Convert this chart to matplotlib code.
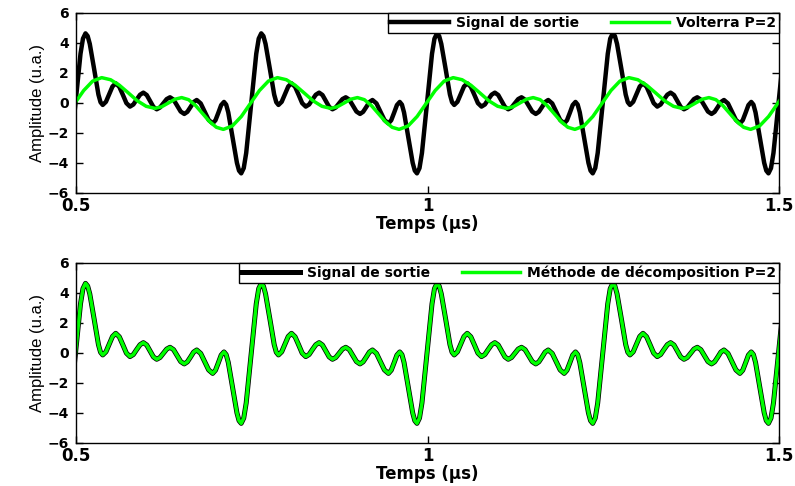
import numpy as np
import matplotlib
matplotlib.use('Agg')
import matplotlib.pyplot as plt

# one period (0.25 us) of each curve
period = 0.25
n_periods = 5

t_out = [0.4850, 0.4886, 0.4921, 0.4993, 0.5064, 0.5099, 0.5135, 0.5166, 0.5196, 0.5258,
         0.5319, 0.5349, 0.5380, 0.5426, 0.5473, 0.5519, 0.5565, 0.5616, 0.5667, 0.5717,
         0.5768, 0.5816, 0.5863, 0.5911, 0.5958, 0.6006, 0.6053, 0.6101, 0.6148, 0.6195,
         0.6243, 0.6290, 0.6337, 0.6388, 0.6439, 0.6489, 0.6540, 0.6584, 0.6629, 0.6673,
         0.6717, 0.6774, 0.6831, 0.6887, 0.6944, 0.6984, 0.7025, 0.7065, 0.7105, 0.7136,
         0.7166, 0.7228, 0.7289, 0.7319]
v_out = [-4.69, -4.34, -3.33, -0.03, 3.28, 4.29, 4.64, 4.46, 3.94, 2.26,
         0.56, 0.05, -0.13, 0.08, 0.59, 1.10, 1.31, 1.08, 0.54, -0.01,
         -0.24, -0.10, 0.23, 0.55, 0.69, 0.53, 0.14, -0.26, -0.42, -0.30,
         -0.02, 0.26, 0.38, 0.22, -0.18, -0.57, -0.73, -0.59, -0.27, 0.06,
         0.20, -0.03, -0.58, -1.13, -1.36, -1.15, -0.65, -0.14, 0.07, -0.11,
         -0.63, -2.31, -3.99, -4.51]

t_vol = [0.4596, 0.4724, 0.4852, 0.4981, 0.5109, 0.5237, 0.5365, 0.5492, 0.5618, 0.5745,
         0.5871, 0.5998, 0.6124, 0.6219, 0.6314, 0.6408, 0.6503, 0.6602, 0.6701, 0.6800,
         0.6898, 0.6997]
v_vol = [-1.76, -1.53, -0.90, -0.03, 0.83, 1.46, 1.69, 1.55, 1.18, 0.67,
         0.15, -0.22, -0.36, -0.25, 0.00, 0.25, 0.36, 0.22, -0.17, -0.70,
         -1.23, -1.62]

# decomposition method overlays the output signal exactly
t_dec = t_out
v_dec = v_out

xticks = [0.5, 1, 1.5]
xticklabels = ['0.5', '1', '1.5']
yticks = [-6, -4, -2, 0, 2, 4, 6]

labels_top = ['Signal de sortie', 'Volterra P=2']
labels_bot = ['Signal de sortie', 'Méthode de décomposition P=2']


def repeat(t, v):
    t = np.asarray(t)
    v = np.asarray(v)
    tt = np.concatenate([t + k * period for k in range(n_periods)])
    vv = np.tile(v, n_periods)
    return tt, vv


green = '#00ff00'

fig = plt.figure(figsize=(7.95, 4.86), dpi=100)
ax1 = fig.add_axes([0.0956, 0.6029, 0.8843, 0.3704])
ax2 = fig.add_axes([0.0956, 0.0885, 0.8843, 0.3704])

tb, vb = repeat(t_out, v_out)
tg, vg = repeat(t_vol, v_vol)
ax1.plot(tb, vb, color='k', lw=3.2, label=labels_top[0])
ax1.plot(tg, vg, color=green, lw=2.5, label=labels_top[1])

td, vd = repeat(t_dec, v_dec)
ax2.plot(tb, vb, color='k', lw=3.6, label=labels_bot[0])
ax2.plot(td, vd, color=green, lw=2.5, label=labels_bot[1])

for ax in (ax1, ax2):
    ax.set_xlim(0.5, 1.5)
    ax.set_ylim(-6, 6)
    ax.set_xticks(xticks)
    ax.set_xticklabels(xticklabels)
    ax.set_yticks(yticks)
    ax.tick_params(direction='in', top=True, right=True, length=5, width=1)
    ax.tick_params(axis='x', labelsize=12, pad=3)
    ax.tick_params(axis='y', labelsize=10, pad=5)
    for lab in ax.get_xticklabels() + ax.get_yticklabels():
        lab.set_fontweight('bold')
    for sp in ax.spines.values():
        sp.set_linewidth(1)
    ax.set_xlabel('Temps (µs)', fontsize=12, fontweight='bold', labelpad=0)
    ax.set_ylabel('Amplitude (u.a.)', fontsize=12, family='Liberation Sans', labelpad=2)
    leg = ax.legend(loc='upper right', ncol=2, borderaxespad=0, fancybox=False,
                    edgecolor='k', framealpha=1, handlelength=4.2, handletextpad=0.5,
                    columnspacing=2.3, borderpad=0.2,
                    prop={'weight': 'bold', 'size': 10})
    leg.get_frame().set_linewidth(1)

fig.savefig('out.png', dpi=100)
